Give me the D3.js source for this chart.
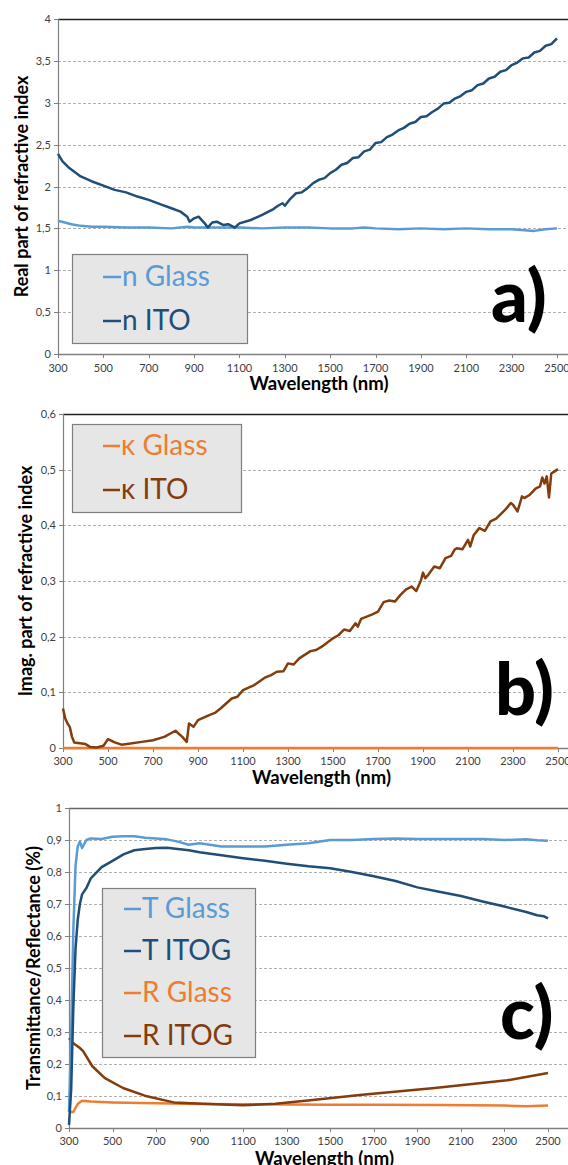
<!DOCTYPE html>
<html>
<head>
<meta charset="utf-8">
<script src="https://cdn.jsdelivr.net/npm/d3@7"></script>
<style>
  body { margin: 0; background: #fff; }
  svg { display: block; font-family: Lato, "Open Sans", sans-serif; }
</style>
</head>
<body>
<div id="chart"></div>
<script>
// wavelength ticks shared by all panels
const wlTicks = [300, 500, 700, 900, 1100, 1300, 1500, 1700, 1900, 2100, 2300, 2500];

// panel a: real part of refractive index  [wavelength nm, n]
const nGlass = [[300,1.59],[330,1.57],[360,1.55],[400,1.53],[450,1.52],[500,1.52],[600,1.51],[700,1.51],[800,1.50],[870,1.52],[900,1.51],
  [1000,1.51],[1100,1.51],[1200,1.50],[1300,1.51],[1400,1.51],[1500,1.50],[1600,1.50],[1650,1.51],[1700,1.50],[1800,1.49],
  [1900,1.50],[2000,1.49],[2100,1.50],[2200,1.49],[2300,1.49],[2400,1.47],[2450,1.49],[2500,1.50]];
const nITO = [[300,2.39],[320,2.30],[350,2.22],[400,2.12],[450,2.06],[500,2.01],[550,1.96],[600,1.93],[650,1.88],[700,1.84],
  [750,1.79],[800,1.74],[840,1.70],[870,1.64],[880,1.58],[900,1.62],[920,1.64],[950,1.55],[960,1.51],[980,1.57],[1000,1.58],
  [1030,1.54],[1050,1.55],[1080,1.51],[1100,1.56],[1150,1.60],[1200,1.66],[1250,1.73],[1270,1.77],[1290,1.80],[1300,1.77],
  [1320,1.84],[1350,1.92],[1375,1.93],[1400,1.98],[1425,2.04],[1450,2.08],[1475,2.10],[1500,2.16],[1525,2.20],[1550,2.26],
  [1575,2.28],[1600,2.34],[1625,2.35],[1650,2.42],[1675,2.44],[1700,2.52],[1725,2.53],[1750,2.59],[1775,2.62],[1800,2.67],
  [1825,2.70],[1850,2.75],[1875,2.77],[1900,2.83],[1925,2.84],[1950,2.89],[1975,2.93],[2000,2.99],[2025,3.00],[2050,3.05],
  [2075,3.08],[2100,3.13],[2125,3.15],[2150,3.21],[2175,3.23],[2200,3.29],[2225,3.31],[2250,3.37],[2275,3.39],[2300,3.45],
  [2325,3.48],[2350,3.53],[2375,3.54],[2400,3.60],[2425,3.62],[2450,3.68],[2475,3.70],[2500,3.77]];

// panel b: imaginary part  [wavelength nm, kappa]
const kGlass = [[300,0],[900,0],[1500,0],[2500,0]];
const kITO = [[300,0.071],[310,0.053],[320,0.044],[330,0.038],[340,0.020],[350,0.010],[400,0.007],[420,0.002],[450,0.001],
  [480,0.004],[500,0.016],[530,0.010],[560,0.006],[600,0.008],[650,0.011],[700,0.014],[750,0.020],[800,0.031],[830,0.020],
  [850,0.011],[860,0.044],[880,0.038],[900,0.050],[950,0.059],[975,0.063],[1000,0.071],[1050,0.089],[1075,0.092],[1100,0.104],
  [1150,0.113],[1200,0.127],[1225,0.131],[1250,0.137],[1280,0.138],[1300,0.152],[1325,0.150],[1350,0.161],[1400,0.174],
  [1425,0.176],[1450,0.182],[1500,0.197],[1525,0.203],[1550,0.213],[1575,0.210],[1600,0.224],[1610,0.218],[1625,0.232],
  [1650,0.236],[1675,0.240],[1700,0.245],[1725,0.262],[1750,0.265],[1775,0.263],[1800,0.275],[1825,0.285],[1850,0.290],
  [1870,0.282],[1890,0.300],[1900,0.315],[1910,0.305],[1925,0.312],[1950,0.326],[1975,0.323],[2000,0.341],[2025,0.345],
  [2040,0.356],[2050,0.359],[2075,0.357],[2100,0.374],[2110,0.362],[2125,0.382],[2150,0.395],[2175,0.390],[2200,0.407],
  [2225,0.412],[2250,0.422],[2270,0.430],[2290,0.440],[2300,0.437],[2320,0.425],[2340,0.452],[2350,0.449],[2375,0.455],
  [2400,0.466],[2420,0.470],[2430,0.486],[2440,0.475],[2450,0.488],[2460,0.450],[2470,0.493],[2485,0.497],[2500,0.501]];

// panel c: transmittance / reflectance
const tGlass = [[300,0.05],[310,0.30],[320,0.62],[330,0.82],[340,0.88],[350,0.895],[360,0.875],[380,0.90],[400,0.905],
  [450,0.903],[500,0.91],[550,0.912],[600,0.912],[650,0.907],[700,0.905],[750,0.902],[800,0.895],[850,0.885],[900,0.89],
  [1000,0.88],[1100,0.88],[1200,0.88],[1300,0.885],[1400,0.89],[1500,0.90],[1600,0.90],[1700,0.903],[1800,0.905],[1900,0.903],
  [2000,0.903],[2100,0.903],[2200,0.903],[2300,0.90],[2400,0.902],[2450,0.899],[2500,0.898]];
const tITOG = [[300,0.01],[310,0.12],[320,0.38],[330,0.56],[340,0.65],[350,0.70],[360,0.73],[380,0.75],[400,0.78],[450,0.815],
  [500,0.835],[550,0.855],[600,0.868],[650,0.872],[700,0.875],[750,0.876],[800,0.872],[850,0.868],[900,0.862],[1000,0.852],
  [1100,0.843],[1200,0.835],[1300,0.826],[1400,0.818],[1500,0.812],[1600,0.800],[1700,0.787],[1800,0.772],[1900,0.752],
  [2000,0.738],[2100,0.725],[2200,0.708],[2300,0.692],[2400,0.675],[2450,0.665],[2480,0.662],[2500,0.655]];
const rGlass = [[300,0.05],[320,0.05],[340,0.075],[360,0.085],[400,0.083],[500,0.080],[700,0.077],[900,0.075],[1100,0.074],
  [1500,0.073],[1700,0.073],[2000,0.072],[2300,0.070],[2400,0.068],[2500,0.070]];
const rITOG = [[300,0.281],[320,0.265],[350,0.25],[365,0.240],[407,0.193],[465,0.156],[548,0.125],[648,0.101],[781,0.080],
  [914,0.076],[1098,0.071],[1248,0.076],[1397,0.086],[1647,0.104],[1980,0.125],[2313,0.149],[2500,0.172]];

const C = { lblue: "#5b9bd5", dblue: "#1f4e79", orange: "#ed7d31", brown: "#843c0c" };

const W = 568, H = 1165;
const svg = d3.select("#chart").append("svg").attr("width", W).attr("height", H);

const locale = d3.formatLocale({ decimal: ",", thousands: ".", grouping: [3], currency: ["", ""] });
const fmt = locale.format("~g");

const panels = [
  { left: 58, x2500: 557, top: 19, bottom: 354, yDomain: [0, 4], yTicks: d3.range(0, 4.01, 0.5),
    yLabel: "Real part of refractive index", yLabelX: 21, tickY: 372, titleY: 390, frame: "#222",
    series: [{ d: nGlass, c: C.lblue }, { d: nITO, c: C.dblue }],
    legend: { x: 72, y: 254, w: 175, h: 89, dash: [103, 121], items: [["n Glass", C.lblue, 286], ["n ITO", C.dblue, 330]] },
    letter: { t: "a)", x: 491, y: 322 } },
  { left: 63, x2500: 558, top: 414, bottom: 748, yDomain: [0, 0.6], yTicks: d3.range(0, 0.61, 0.1),
    yLabel: "Imag. part of refractive index", yLabelX: 25, tickY: 765, titleY: 784, frame: "#222",
    series: [{ d: kGlass, c: C.orange }, { d: kITO, c: C.brown }],
    legend: { x: 72, y: 424, w: 169, h: 88, dash: [103, 120], items: [["κ Glass", C.orange, 455], ["κ ITO", C.brown, 499]] },
    letter: { t: "b)", x: 495, y: 715 } },
  { left: 69, x2500: 548, top: 808, bottom: 1128, yDomain: [0, 1], yTicks: d3.range(0, 1.01, 0.1),
    yLabel: "Transmittance/Reflectance (%)", yLabelX: 33, tickY: 1145, titleY: 1165, frame: "#666",
    series: [{ d: rGlass, c: C.orange }, { d: rITOG, c: C.brown }, { d: tGlass, c: C.lblue }, { d: tITOG, c: C.dblue }],
    legend: { x: 102, y: 888, w: 153, h: 169, dash: [124, 141],
      items: [["T Glass", C.lblue, 918], ["T ITOG", C.dblue, 960], ["R Glass", C.orange, 1002], ["R ITOG", C.brown, 1045]] },
    letter: { t: "c)", x: 500, y: 1039 } }
];

panels.forEach(p => {
  const g = svg.append("g");
  const x = d3.scaleLinear().domain([300, 2500]).range([p.left, p.x2500]);
  const y = d3.scaleLinear().domain(p.yDomain).range([p.bottom, p.top]);

  // dashed grid
  g.selectAll(".grid").data(p.yTicks.slice(1, -1)).enter().append("line")
    .attr("x1", p.left).attr("x2", W)
    .attr("y1", d => Math.round(y(d)) + 0.5).attr("y2", d => Math.round(y(d)) + 0.5)
    .attr("stroke", "#b0b0b0").attr("stroke-width", 1).attr("stroke-dasharray", "3,2");

  // top frame
  g.append("line").attr("x1", p.left).attr("x2", W).attr("y1", p.top + 0.5).attr("y2", p.top + 0.5)
    .attr("stroke", p.frame).attr("stroke-width", 1.5);

  // y axis
  g.append("line").attr("x1", p.left + 0.5).attr("x2", p.left + 0.5).attr("y1", p.top).attr("y2", p.bottom)
    .attr("stroke", "#808080").attr("stroke-width", 1.2);
  g.selectAll(".ytick").data(p.yTicks).enter().append("line")
    .attr("x1", p.left - 4).attr("x2", p.left)
    .attr("y1", d => Math.round(y(d)) + 0.5).attr("y2", d => Math.round(y(d)) + 0.5)
    .attr("stroke", "#808080");
  g.selectAll(".ylab").data(p.yTicks).enter().append("text")
    .attr("x", p.left - 7).attr("y", d => y(d) + 4)
    .attr("text-anchor", "end").style("font-size", "11px").attr("fill", "#404040")
    .text(d => fmt(+d.toFixed(2)));

  // x axis
  g.append("line").attr("x1", p.left).attr("x2", W).attr("y1", p.bottom + 0.5).attr("y2", p.bottom + 0.5)
    .attr("stroke", "#808080").attr("stroke-width", 1.5);
  g.selectAll(".xtick").data(wlTicks).enter().append("line")
    .attr("x1", d => Math.round(x(d)) + 0.5).attr("x2", d => Math.round(x(d)) + 0.5)
    .attr("y1", p.bottom).attr("y2", p.bottom + 4)
    .attr("stroke", "#808080");
  g.selectAll(".xlab").data(wlTicks).enter().append("text")
    .attr("x", d => x(d)).attr("y", p.tickY)
    .attr("text-anchor", "middle").style("font-size", "11px").attr("fill", "#404040")
    .text(d => d);

  // axis titles
  g.append("text").attr("x", (p.left + W) / 2 + 6).attr("y", p.titleY)
    .attr("text-anchor", "middle").style("font-size", "18.5px").style("font-weight", "bold")
    .text("Wavelength (nm)");
  g.append("text")
    .attr("transform", `translate(${p.yLabelX + 7},${(p.top + p.bottom) / 2}) rotate(-90)`)
    .attr("text-anchor", "middle").style("font-size", "18px").style("font-weight", "bold")
    .text(p.yLabel);

  // series
  const line = d3.line().x(d => x(d[0])).y(d => y(d[1]));
  p.series.forEach(s => {
    g.append("path").datum(s.d).attr("d", line)
      .attr("fill", "none").attr("stroke", s.c).attr("stroke-width", 2.5).attr("stroke-linejoin", "round");
  });

  // legend
  const L = p.legend;
  g.append("rect").attr("x", L.x + 0.5).attr("y", L.y + 0.5).attr("width", L.w).attr("height", L.h)
    .attr("fill", "#e6e6e6").attr("stroke", "#7f7f7f").attr("stroke-width", 1.2);
  L.items.forEach(([label, col, by]) => {
    g.append("line").attr("x1", L.dash[0]).attr("x2", L.dash[1]).attr("y1", by - 9).attr("y2", by - 9)
      .attr("stroke", col).attr("stroke-width", 2.5);
    g.append("text").attr("x", L.dash[1] + 1).attr("y", by)
      .style("font-size", "28px").attr("fill", col).text(label);
  });

  // panel letter
  g.append("text").attr("x", p.letter.x).attr("y", p.letter.y)
    .style("font-size", "72px").style("font-weight", "900").text(p.letter.t);
});
</script>
</body>
</html>
